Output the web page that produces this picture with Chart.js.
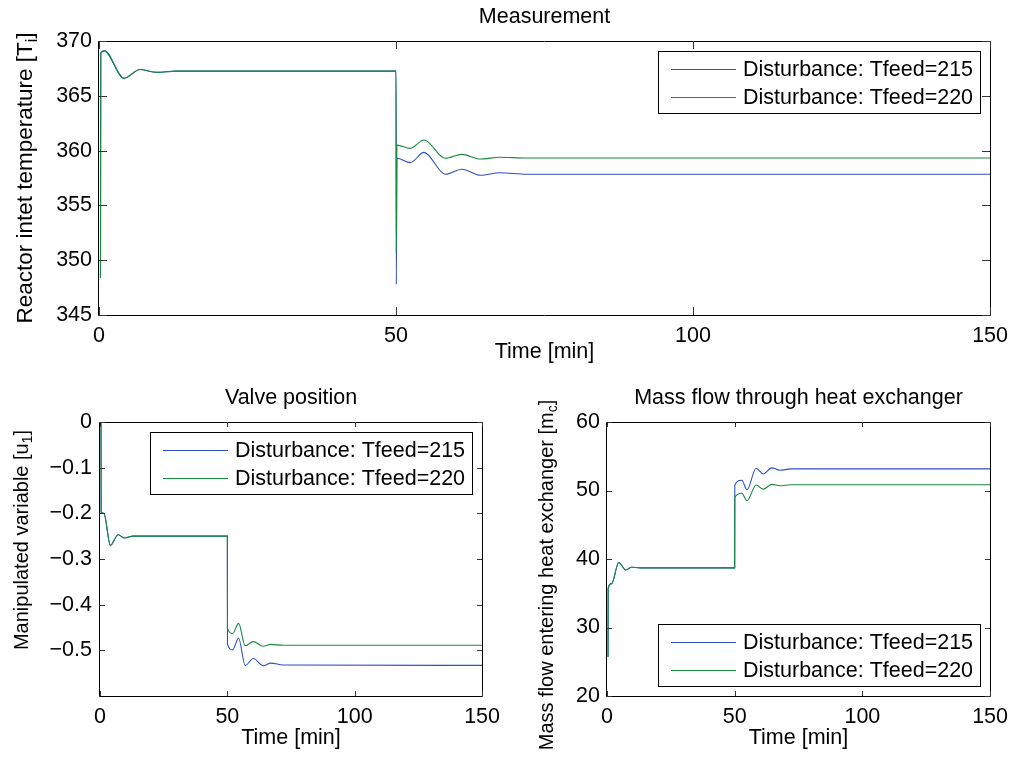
<!DOCTYPE html>
<html><head><meta charset="utf-8">
<script src="https://cdn.jsdelivr.net/npm/chart.js@4.4.0/dist/chart.umd.min.js"></script>
<style>
html,body{margin:0;padding:0;background:#fff;}
body{width:1016px;height:757px;position:relative;overflow:hidden;}
canvas{position:absolute;}
</style></head><body>
<canvas id="c1" style="left:0px;top:0px" width="1016" height="380"></canvas>
<canvas id="c2" style="left:0px;top:380px" width="508" height="377"></canvas>
<canvas id="c3" style="left:508px;top:380px" width="508" height="377"></canvas>
<script>
// ---------- data ----------
const seriesLabels = ['Disturbance: Tfeed=215', 'Disturbance: Tfeed=220'];
const timeTicks = [0, 50, 100, 150];

// Reactor inlet temperature
const tempTimeStart = [0.25, 0.3, 0.9, 4.2, 6.9, 9.7, 13, 50];
const tempStart     = [348.4, 368.9, 369.1, 366.6, 367.4, 367.14, 367.25, 367.25];
const tempTimeStep  = [50.05, 50.15, 52.4, 54.7, 58.3, 61.1, 64.2, 67.5, 72, 150];
const temp215Step   = [347.8, 359.3, 358.9, 359.84, 357.84, 358.3, 357.75, 357.98, 357.84, 357.84];
const temp220Step   = [350.7, 360.5, 360.2, 360.97, 359.3, 359.66, 359.23, 359.4, 359.32, 359.32];
const tempTicks     = [345, 350, 355, 360, 365, 370];

// Valve position
const valveTimeStart = [0.4, 0.45, 1.5, 4.1, 7.1, 9.5, 13, 50];
const valveStart     = [0, -0.198, -0.2, -0.27, -0.247, -0.254, -0.25, -0.25];
const valveTimeStep  = [50.05, 52.1, 54.4, 57, 60.2, 64.1, 67, 72, 150];
const valve215Step   = [-0.487, -0.499, -0.473, -0.533, -0.518, -0.534, -0.528, -0.532, -0.533];
const valve220Step   = [-0.4527, -0.463, -0.441, -0.490, -0.481, -0.491, -0.487, -0.489, -0.489];
const valveTicks     = [0, -0.1, -0.2, -0.3, -0.4, -0.5];

// Mass flow
const massTimeStart = [0.4, 0.45, 1.8, 4.6, 7.4, 9.6, 13, 50];
const massStart     = [25.7, 35.7, 36.4, 39.5, 38.4, 38.8, 38.7, 38.7];
const massTimeStep  = [50.05, 52.8, 54.8, 58.4, 61.2, 64.5, 67.7, 72, 150];
const mass215Step   = [50.8, 51.5, 50.1, 53.25, 52.4, 53.3, 52.95, 53.15, 53.15];
const mass220Step   = [49.0, 49.6, 48.5, 50.8, 50.2, 50.9, 50.7, 50.85, 50.85];
const massTicks     = [20, 30, 40, 50, 60];

// ---------- styling ----------
const FONT = "'Liberation Sans', Arial, Helvetica, sans-serif";
const FS = 21.5;
const COLORS = ['#2f4fc4', '#178a3e'];

function pts(ts, vs) { return ts.map((t, i) => ({x: t, y: vs[i]})); }

const decoPlugin = {
  id: 'deco',
  afterDraw(chart) {
    const o = chart.options.plugins.deco;
    const ctx = chart.ctx;
    const ca = chart.chartArea;
    const xs = chart.scales.x, ys = chart.scales.y;
    ctx.save();
    // box
    ctx.strokeStyle = '#000';
    ctx.lineWidth = 1;
    ctx.beginPath();
    ctx.rect(Math.round(ca.left) - 0.5, Math.round(ca.top) + 0.5, Math.round(ca.right - ca.left) + 1, Math.round(ca.bottom - ca.top));
    ctx.stroke();
    // inward ticks on all sides
    const L = o.tickLen;
    ctx.strokeStyle = '#333';
    ctx.beginPath();
    xs.ticks.forEach(t => {
      const px = Math.round(xs.getPixelForValue(t.value)) + 0.5;
      ctx.moveTo(px, ca.bottom); ctx.lineTo(px, ca.bottom - L);
      ctx.moveTo(px, ca.top); ctx.lineTo(px, ca.top + L);
    });
    ys.ticks.forEach(t => {
      const py = Math.round(ys.getPixelForValue(t.value)) + 0.5;
      ctx.moveTo(ca.left, py); ctx.lineTo(ca.left + L, py);
      ctx.moveTo(ca.right, py); ctx.lineTo(ca.right - L, py);
    });
    ctx.stroke();
    // legend
    const w = 322, h = 62;
    const lx = Math.round(ca.right - 10 - w);
    const ly = o.legend === 'ne' ? Math.round(ca.top + 10) : Math.round(ca.bottom - 10 - h);
    ctx.fillStyle = '#fff';
    ctx.fillRect(lx, ly, w, h);
    ctx.strokeStyle = '#000';
    ctx.lineWidth = 1;
    ctx.strokeRect(lx + 0.5, ly + 0.5, w, h);
    ctx.font = FS + 'px ' + FONT;
    ctx.textAlign = 'left';
    ctx.textBaseline = 'middle';
    chart.data.datasets.forEach((ds, i) => {
      const ry = ly + 18 + i * 28;
      ctx.beginPath();
      ctx.strokeStyle = COLORS[i];
      ctx.lineWidth = 1;
      ctx.moveTo(lx + 13, ry + 0.5);
      ctx.lineTo(lx + 78, ry + 0.5);
      ctx.stroke();
      ctx.fillStyle = '#000';
      ctx.fillText(ds.label, lx + 85, ry + 1);
    });
    // title
    ctx.fillStyle = '#000';
    ctx.textAlign = 'center';
    ctx.textBaseline = 'middle';
    ctx.font = FS + 'px ' + FONT;
    ctx.fillText(o.title, (ca.left + ca.right) / 2, o.titleY);
    // y label with subscript
    const subF = Math.round(o.ylSize * 0.72);
    let total = 0;
    o.ylabel.forEach(p => {
      ctx.font = (p.sub ? subF : o.ylSize) + 'px ' + FONT;
      total += ctx.measureText(p.t).width;
    });
    ctx.translate(o.ylX, o.ylY);
    ctx.rotate(-Math.PI / 2);
    ctx.textAlign = 'left';
    ctx.textBaseline = 'middle';
    let cx = -total / 2;
    o.ylabel.forEach(p => {
      ctx.font = (p.sub ? subF : o.ylSize) + 'px ' + FONT;
      ctx.fillText(p.t, cx, p.sub ? o.ylSize * 0.3 : 0);
      cx += ctx.measureText(p.t).width;
    });
    ctx.restore();
  }
};

function makeChart(id, d) {
  const fmt = v => {
    const s = String(Math.round(v * 1000) / 1000);
    return s.replace('-', '\u2212');
  };
  return new Chart(document.getElementById(id), {
    type: 'line',
    data: {
      datasets: [
        {label: seriesLabels[0], data: d.blue, borderColor: COLORS[0], borderWidth: 1.1, pointRadius: 0,
         cubicInterpolationMode: 'monotone', fill: false, order: 1},
        {label: seriesLabels[1], data: d.green, borderColor: COLORS[1], borderWidth: 1.1, pointRadius: 0,
         cubicInterpolationMode: 'monotone', fill: false, order: 0}
      ]
    },
    options: {
      responsive: false, animation: false, events: [],
      layout: {padding: {left: 0, right: d.padR, top: d.padT, bottom: 0}},
      plugins: {legend: {display: false}, tooltip: {enabled: false}, deco: d.deco},
      scales: {
        x: {
          type: 'linear', min: 0, max: 150,
          afterBuildTicks: s => { s.ticks = timeTicks.map(v => ({value: v})); },
          ticks: {color: '#000', font: {family: FONT, size: FS}, padding: d.xPad, maxRotation: 0, autoSkip: false,
                  callback: v => fmt(v)},
          grid: {display: false, drawTicks: false},
          border: {display: false},
          title: {display: true, text: 'Time [min]', color: '#000', font: {family: FONT, size: FS},
                  padding: {top: 0, bottom: d.xTitlePad}},
          afterFit: s => { s.height = d.xH; }
        },
        y: {
          type: 'linear', min: d.yMin, max: d.yMax,
          afterBuildTicks: s => { s.ticks = d.yTicks.map(v => ({value: v})); },
          ticks: {color: '#000', font: {family: FONT, size: FS}, padding: d.yPad, callback: v => fmt(v)},
          grid: {display: false, drawTicks: false},
          border: {display: false},
          afterFit: s => { s.width = d.yW; }
        }
      }
    },
    plugins: [decoPlugin]
  });
}

makeChart('c1', {
  blue: pts(tempTimeStart.concat(tempTimeStep), tempStart.concat(temp215Step)),
  green: pts(tempTimeStart.concat(tempTimeStep), tempStart.concat(temp220Step)),
  yMin: 345, yMax: 370, yTicks: tempTicks,
  padR: 22, padT: 41, xH: 65, yW: 99, xPad: 8, xTitlePad: 15, yPad: 7,
  deco: {tickLen: 8, legend: 'ne', title: 'Measurement', titleY: 17,
         ylabel: [{t: 'Reactor intet temperature [T'}, {t: 'i', sub: true}, {t: ']'}],
         ylSize: 22.5, ylX: 26, ylY: 178}
});

makeChart('c2', {
  blue: pts(valveTimeStart.concat(valveTimeStep), valveStart.concat(valve215Step)),
  green: pts(valveTimeStart.concat(valveTimeStep), valveStart.concat(valve220Step)),
  yMin: -0.6, yMax: 0, yTicks: valveTicks,
  padR: 22, padT: 42, xH: 61, yW: 100, xPad: 8, xTitlePad: 6, yPad: 8,
  deco: {tickLen: 5, legend: 'ne', title: 'Valve position', titleY: 18,
         ylabel: [{t: 'Manipulated variable [u'}, {t: '1', sub: true}, {t: ']'}],
         ylSize: 20, ylX: 22, ylY: 160}
});

makeChart('c3', {
  blue: pts(massTimeStart.concat(massTimeStep), massStart.concat(mass215Step)),
  green: pts(massTimeStart.concat(massTimeStep), massStart.concat(mass220Step)),
  yMin: 20, yMax: 60, yTicks: massTicks,
  padR: 22, padT: 42, xH: 61, yW: 99, xPad: 8, xTitlePad: 6, yPad: 7,
  deco: {tickLen: 5, legend: 'se', title: 'Mass flow through heat exchanger', titleY: 18,
         ylabel: [{t: 'Mass flow entering heat exchanger [m'}, {t: 'c', sub: true}, {t: ']'}],
         ylSize: 20, ylX: 39, ylY: 195}
});
</script>
</body></html>
